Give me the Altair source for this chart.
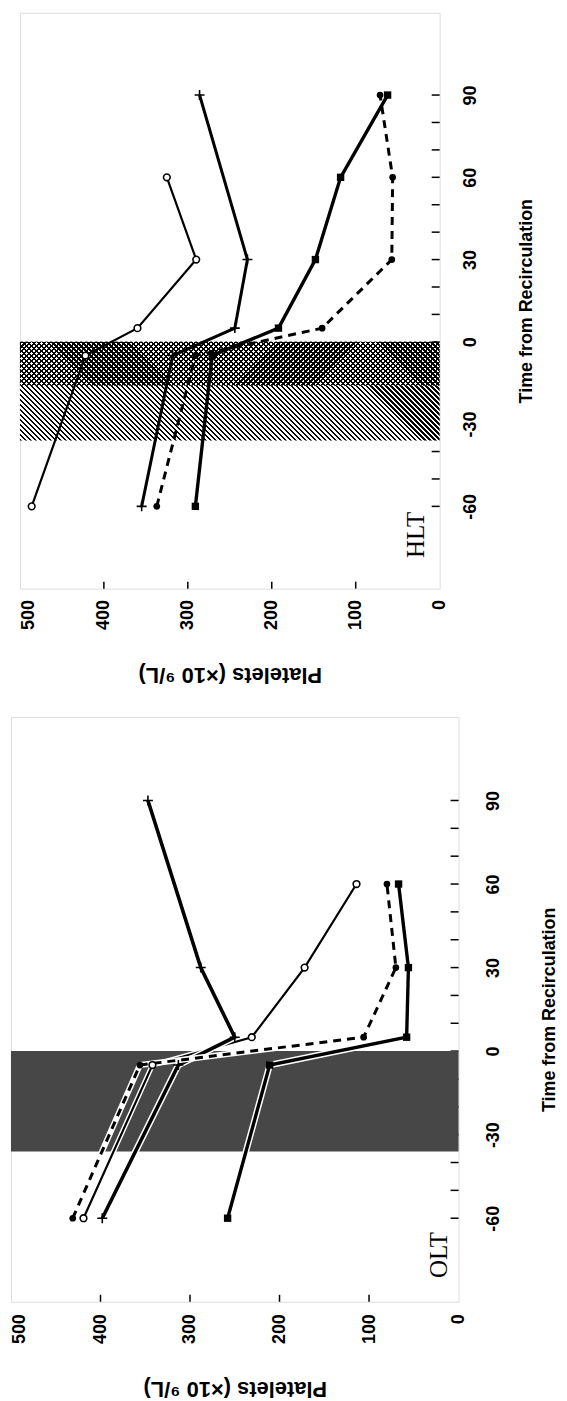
import altair as alt
import pandas as pd

# ---------------- data ----------------
times = [-60, -5, 5, 30, 60, 90]

hlt_open_circle = [486, 422, 360, 290, 325, None]
hlt_plus = [355, 318, 244, 229, None, 286]
hlt_square = [291, 271, 192, 148, 118, 62]
hlt_dot = [337, 291, 140, 57, 56, 71]

olt_open_circle = [419, 342, 231, 172, 114, None]
olt_plus = [398, 313, 250, 288, None, 347]
olt_square = [258, 211, 58, 56, 67, None]
olt_dot = [431, 356, 106, 70, 80, None]

time_domain = [-90, 120]
platelet_domain = [0, 500]
time_labels = [-60, -30, 0, 30, 60, 90]
time_ticks = [-60, -50, -40, -30, -20, -10, 0, 10, 20, 30, 40, 50, 60, 70, 80, 90]
platelet_labels = [0, 100, 200, 300, 400, 500]
platelet_ticks = [100, 200, 300, 400]

hlt_hatch_band = [-36, -16]
hlt_cross_band = [-16, 0]
olt_band = [-36, 0]

x_title = "Platelets (×10 ⁹/L)"
y_title = "Time from Recirculation"

SANS = "Liberation Sans, Arial, sans-serif"
SERIF = "Liberation Serif, Times New Roman, serif"


def series_df(vals):
    return pd.DataFrame({
        "time": [t for t, v in zip(times, vals) if v is not None],
        "platelets": [v for v in vals if v is not None],
    })


def stripes(W, H, period, frac, kind, c1, c2):
    if kind == "solid":
        return c1
    k = (W + H) / (W * W + H * H)
    L = W + H
    if kind == "back":
        x1, y1, x2, y2 = 0, 1, k * W, 1 - k * H
    else:
        x1, y1, x2, y2 = 0, 0, k * W, k * H
    n = max(1, round(L / period))
    stops = []
    for i in range(n):
        a = round(i / n, 6)
        b = round((i + frac) / n, 6)
        c = round((i + 1) / n, 6)
        stops += [
            {"offset": a, "color": c1},
            {"offset": b, "color": c1},
            {"offset": b, "color": c2},
            {"offset": c, "color": c2},
        ]
    return {"gradient": "linear", "x1": x1, "y1": y1, "x2": x2, "y2": y2, "stops": stops}


STYLES = {
    "circle": dict(lw=2.2, dash=None, shape="circle", filled=False, size=45),
    "plus": dict(lw=3.0, dash=None, shape="M-1,0L1,0M0,-1L0,1", filled=False, size=100),
    "square": dict(lw=3.4, dash=None, shape="square", filled=True, size=55),
    "dot": dict(lw=3.0, dash=[8, 6], shape="circle", filled=True, size=45),
}


def panel(name, series, W, H, bands, lpx, lpy, tpx, tpy, label_xy, halo, plus_lw):
    xs = alt.Scale(domain=platelet_domain, reverse=True, nice=False, zero=False)
    ys = alt.Scale(domain=time_domain, nice=False, zero=False)
    x_axis = alt.Axis(
        values=platelet_labels, labelAngle=270, labelFont=SANS, labelFontWeight="bold",
        labelFontSize=18, labelColor="black", labelPadding=lpx,
        labelBaseline={"condition": {"test": "datum.value == 500", "value": "top"}, "value": "middle"},
        ticks=False, domain=False, grid=False,
        title=x_title, titleFont=SANS, titleFontWeight="bold", titleFontSize=22,
        titleColor="black", titleAngle=180, titleBaseline="bottom", titlePadding=tpx,
    )
    y_axis = alt.Axis(
        values=time_labels, labelAngle=270, labelAlign="center", labelBaseline="top",
        labelFont=SANS, labelFontWeight="bold", labelFontSize=18, labelColor="black",
        labelPadding=lpy, labelExpr="'' + datum.value",
        ticks=False, domain=False, grid=False, orient="right",
        title=y_title, titleFont=SANS, titleFontWeight="bold", titleFontSize=18,
        titleColor="black", titleAngle=270, titleBaseline="top", titlePadding=tpy,
    )
    X = alt.X("platelets:Q", scale=xs, axis=x_axis)
    Y = alt.Y("time:Q", scale=ys, axis=y_axis)

    layers = []
    layers.append(
        alt.Chart(pd.DataFrame({"time": time_ticks}))
        .mark_rule(color="black", strokeWidth=1.5)
        .encode(y=Y, x=alt.value(W - 8), x2=alt.value(W))
    )
    layers.append(
        alt.Chart(pd.DataFrame({"platelets": platelet_ticks}))
        .mark_rule(color="black", strokeWidth=1.5)
        .encode(x=X, y=alt.value(H - 7), y2=alt.value(H))
    )
    span = time_domain[1] - time_domain[0]
    for band, kinds in bands:
        bh = (band[1] - band[0]) / span * H
        for kind, period, frac, c1, c2 in kinds:
            fill = stripes(W, bh, period, frac, kind, c1, c2)
            layers.append(
                alt.Chart(pd.DataFrame({"time": [band[0]], "time2": [band[1]]}))
                .mark_rect(fill=fill, strokeWidth=0)
                .encode(y=Y, y2="time2:Q", x=alt.value(0), x2=alt.value(W))
            )
    for key, vals in series:
        st = STYLES[key]
        lw = plus_lw if key == "plus" else st["lw"]
        df = series_df(vals)
        if halo:
            layers.append(
                alt.Chart(df).mark_line(color="white", strokeWidth=lw + 3)
                .encode(x=X, y=Y, order="time:Q")
            )
        lkw = dict(color="black", strokeWidth=lw)
        if st["dash"]:
            lkw["strokeDash"] = st["dash"]
        layers.append(alt.Chart(df).mark_line(**lkw).encode(x=X, y=Y, order="time:Q"))
    for key, vals in series:
        st = STYLES[key]
        df = series_df(vals)
        if st["filled"]:
            pm = alt.Chart(df).mark_point(shape=st["shape"], filled=True, color="black",
                                          size=st["size"], opacity=1)
        else:
            pm = alt.Chart(df).mark_point(shape=st["shape"], filled=False, stroke="black",
                                          fill="white", fillOpacity=1 if key == "circle" else 0,
                                          strokeWidth=1.6, size=st["size"], opacity=1)
        layers.append(pm.encode(x=X, y=Y))
    layers.append(
        alt.Chart(pd.DataFrame({"label": [name]}))
        .mark_text(font=SERIF, fontSize=25, angle=270, align="center", baseline="middle", color="black")
        .encode(text="label:N", x=alt.value(label_xy[0]), y=alt.value(label_xy[1]))
    )
    return alt.layer(*layers).properties(width=W, height=H)


hlt_bands = [
    (hlt_hatch_band, [("back", 5, 0.42, "black", "white")]),
    (hlt_cross_band, [("back", 5, 0.45, "black", "white"),
                      ("fwd", 5, 0.45, "black", "rgba(0,0,0,0)")]),
]
olt_bands = [
    (olt_band, [("solid", 0, 0, "#474747", "#474747")]),
]

hlt = panel(
    "HLT",
    [("circle", hlt_open_circle), ("plus", hlt_plus), ("square", hlt_square), ("dot", hlt_dot)],
    422, 579, hlt_bands, 11, 22, 33, 38, (398, 525), False, 3.0,
)
olt = panel(
    "OLT",
    [("circle", olt_open_circle), ("plus", olt_plus), ("square", olt_square), ("dot", olt_dot)],
    450, 588, olt_bands, 12, 26, 33, 38, (430, 541), True, 3.6,
)

spacer = (
    alt.Chart(pd.DataFrame({"v": [0]}))
    .mark_point(opacity=0, size=1)
    .encode(x=alt.value(1), y=alt.value(1))
    .properties(width=1, height=1, view=alt.ViewBackground(strokeOpacity=0))
)

top = alt.hconcat(spacer, hlt, spacing=6)
chart = (
    alt.vconcat(top, olt, spacing=30)
    .properties(padding={"left": 2, "top": 0, "right": 0, "bottom": 0})
    .configure_view(stroke="black", strokeWidth=1.5)
    .configure(background="white")
)

chart.save("out.html", embed_options={"renderer": "svg", "actions": False})
